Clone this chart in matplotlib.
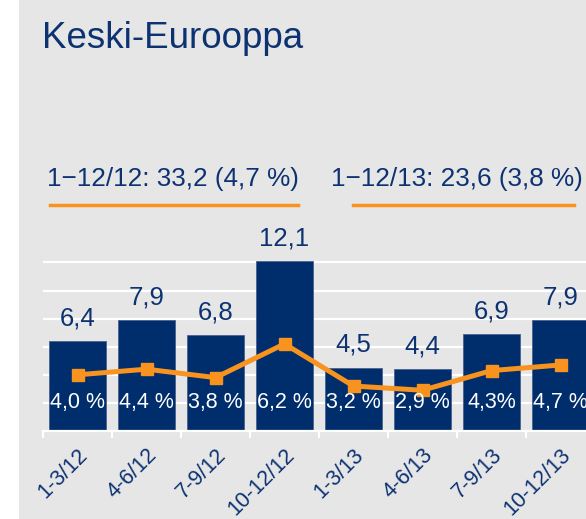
import matplotlib
matplotlib.use("Agg")
import matplotlib.pyplot as plt
from matplotlib.patches import Rectangle
from matplotlib.lines import Line2D

plt.rcParams['font.family'] = ['Liberation Sans', 'DejaVu Sans']

# data
quarters = ['1-3/12', '4-6/12', '7-9/12', '10-12/12', '1-3/13', '4-6/13', '7-9/13', '10-12/13']
sales = [6.4, 7.9, 6.8, 12.1, 4.5, 4.4, 6.9, 7.9]
margin = [4.0, 4.4, 3.8, 6.2, 3.2, 2.9, 4.3, 4.7]
margin_labels = ['4,0 %', '4,4 %', '3,8 %', '6,2 %', '3,2 %', '2,9 %', '4,3%', '4,7 %']
totals = ['1\u221212/12: 33,2 (4,7 %)', '1\u221212/13: 23,6 (3,8 %)']

navy = '#002d6b'
text_blue = '#0d3272'
orange = '#f7931e'
grey = '#e6e6e6'

W, H = 586, 519
fig = plt.figure(figsize=(W / 100, H / 100), dpi=100)
fig.patch.set_facecolor('white')
fig.add_artist(Rectangle((19 / W, 0), 1, 1, transform=fig.transFigure,
                         facecolor=grey, edgecolor='none', zorder=0))

# axes: x from -0.5 (px 43) to 7.5 (px 595), y 0..14 at ~14.05 px/unit
ax = fig.add_axes([43 / W, (H - 431) / H, 552 / W, 14 * 14.05 / H])
ax.patch.set_alpha(0)
x = list(range(len(quarters)))
ax.bar(x, sales, width=0.84, color=navy, edgecolor='#4a6090', linewidth=0.6, zorder=2)
ax.plot(x, margin, color=orange, lw=3.6, marker='s', markersize=8.5, zorder=3)

for i, v in enumerate(sales):
    ax.annotate(f'{v:.1f}'.replace('.', ','), (i, v), xytext=(0, 16.5),
                textcoords='offset points', ha='center', va='center',
                fontsize=18.5, color=text_blue)
    ax.text(i, 2.0, margin_labels[i], ha='center', va='center',
            fontsize=15.5, color='white', zorder=4)

ax.set_xlim(-0.5, 7.5)
ax.set_ylim(0, 14)
ax.set_yticks([2, 4, 6, 8, 10, 12])
ax.yaxis.grid(True, color='white', lw=1.6)
ax.set_axisbelow(True)
ax.tick_params(axis='y', left=False, labelleft=False)
for s in ['top', 'right', 'left']:
    ax.spines[s].set_visible(False)
ax.spines['bottom'].set_color('white')
ax.spines['bottom'].set_linewidth(1.6)

ax.set_xticks(x)
ax.set_xticklabels(quarters, rotation=45, ha='right', rotation_mode='anchor',
                   fontsize=15.5, color=text_blue)
ax.tick_params(axis='x', which='major', length=0, pad=10)
ax.set_xticks([i - 0.5 for i in range(len(quarters) + 1)], minor=True)
ax.tick_params(axis='x', which='minor', length=5, width=1.5, color='white')

fig.text(42 / W, (H - 48) / H, 'Keski-Eurooppa', fontsize=26.5,
         color=text_blue, va='baseline', ha='left')

fig.text(173 / W, (H - 186) / H, totals[0], fontsize=18.8, color=text_blue,
         ha='center', va='baseline')
fig.text(457 / W, (H - 186) / H, totals[1], fontsize=18.8, color=text_blue,
         ha='center', va='baseline')
fig.add_artist(Line2D([50 / W, 298 / W], [(H - 205) / H] * 2, color=orange, lw=2.5))
fig.add_artist(Line2D([353 / W, 574 / W], [(H - 205) / H] * 2, color=orange, lw=2.5))

fig.savefig('out.png', dpi=100)
